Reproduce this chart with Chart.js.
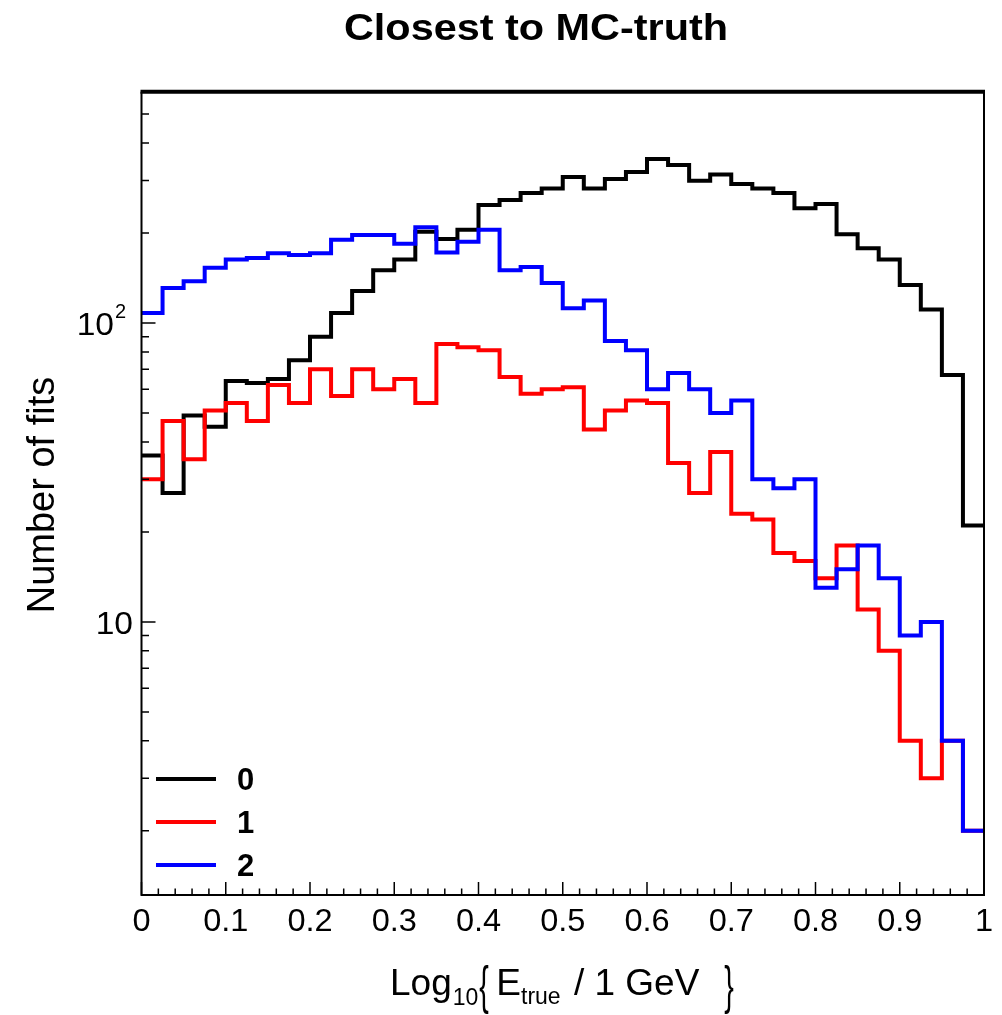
<!DOCTYPE html>
<html><head><meta charset="utf-8">
<script src="https://cdn.jsdelivr.net/npm/chart.js@4/dist/chart.umd.min.js"></script>
<style>html,body{margin:0;padding:0;background:#fff;} canvas{display:block;}</style>
</head><body>
<canvas id="c" width="1002" height="1015"></canvas>
<script>
// ---- data ----
const chartTitle = 'Closest to MC-truth';
const yAxisTitle = 'Number of fits';
const binEdges = [0,0.025,0.05,0.075,0.1,0.125,0.15,0.175,0.2,0.225,0.25,0.275,0.3,0.325,0.35,0.375,0.4,0.425,0.45,0.475,0.5,0.525,0.55,0.575,0.6,0.625,0.65,0.675,0.7,0.725,0.75,0.775,0.8,0.825,0.85,0.875,0.9,0.925,0.95,0.975,1.0];
const seriesNames = ['0', '1', '2'];
const seriesColors = ['#000000', '#ff0000', '#0000ff'];
const counts0 = [36,27,49,45,64,63,65,75,90,108,128,150,163,202,191,205,248,258,272,282,308,282,303,320,354,338,299,314,292,282,272,242,250,198,178,163,134,111,67,21];
const counts1 = [30,47,35,51,54,47,62,54,70,57,70,60,65,54,85,83,81,66,58,60,61,44,51,55,54,34,27,37,23,22,17,16,14,18,11,8,4,3,4,2];
const counts2 = [108,131,138,153,163,165,171,169,171,190,197,197,184,209,172,187,205,150,154,136,112,119,87,81,60,68,60,50,55,30,28,30,13,15,18,14,9,10,4,2];
const xMajorTicks = [0,0.1,0.2,0.3,0.4,0.5,0.6,0.7,0.8,0.9,1];
const xTickLabels = ['0','0.1','0.2','0.3','0.4','0.5','0.6','0.7','0.8','0.9','1'];
const xMinorTicks = [0.02,0.04,0.06,0.08,0.12,0.14,0.16,0.18,0.22,0.24,0.26,0.28,0.32,0.34,0.36,0.38,0.42,0.44,0.46,0.48,0.52,0.54,0.56,0.58,0.62,0.64,0.66,0.68,0.72,0.74,0.76,0.78,0.82,0.84,0.86,0.88,0.92,0.94,0.96,0.98];
const yMajorTicks = [10, 100];
const yMinorTicks = [2,3,4,5,6,7,8,9,20,30,40,50,60,70,80,90,200,300,400,500];
const yRange = [1.22, 594];
const xRange = [0, 1];

function histPoints(counts) {
  // point i sits at the left edge of bin i; the last point closes the last bin
  return binEdges.map((e, i) => ({ x: e, y: counts[Math.min(i, counts.length - 1)] }));
}

const FONT = '"Liberation Sans", Arial, Helvetica, sans-serif';
function txt(ctx, s, x, y, size, o) {
  o = o || {};
  ctx.save();
  ctx.font = (o.bold ? 'bold ' : '') + size + 'px ' + FONT;
  ctx.fillStyle = '#000';
  ctx.textAlign = o.align || 'left';
  ctx.textBaseline = o.baseline || 'alphabetic';
  ctx.translate(x, y);
  if (o.rot) ctx.rotate(o.rot);
  ctx.scale(o.sx || 1, o.sy || 1);
  ctx.fillText(s, 0, 0);
  const w = ctx.measureText(s).width * (o.sx || 1);
  ctx.restore();
  return w;
}

const rootDecor = {
  id: 'rootDecor',
  afterDraw(chart) {
    const ctx = chart.ctx;
    const a = chart.chartArea;
    const xs = chart.scales.x, ys = chart.scales.y;
    ctx.save();
    ctx.strokeStyle = '#000';
    ctx.lineCap = 'butt';
    // frame
    ctx.lineWidth = 2;
    ctx.beginPath();
    ctx.moveTo(a.left, a.top); ctx.lineTo(a.left, a.bottom); ctx.lineTo(a.right, a.bottom); ctx.lineTo(a.right, a.top);
    ctx.stroke();
    ctx.lineWidth = 4;
    ctx.beginPath(); ctx.moveTo(a.left - 1, a.top); ctx.lineTo(a.right + 1, a.top); ctx.stroke();
    // x ticks
    ctx.lineWidth = 1.5;
    ctx.beginPath();
    xMajorTicks.forEach(v => { const p = xs.getPixelForValue(v); ctx.moveTo(p, a.bottom); ctx.lineTo(p, a.bottom - 13); });
    xMinorTicks.forEach(v => { const p = xs.getPixelForValue(v); ctx.moveTo(p, a.bottom); ctx.lineTo(p, a.bottom - 6.5); });
    // y ticks
    yMajorTicks.forEach(v => { const p = ys.getPixelForValue(v); ctx.moveTo(a.left, p); ctx.lineTo(a.left + 14, p); });
    yMinorTicks.forEach(v => { const p = ys.getPixelForValue(v); ctx.moveTo(a.left, p); ctx.lineTo(a.left + 7.5, p); });
    ctx.stroke();
    ctx.restore();

    // x tick labels
    xMajorTicks.forEach((v, i) => {
      txt(ctx, xTickLabels[i], xs.getPixelForValue(v), a.bottom + 36, 31, { align: 'center', sx: 1.05 });
    });
    // y tick labels
    const p10 = ys.getPixelForValue(10);
    txt(ctx, '10', 133, p10 + 12, 32, { align: 'right', sx: 1.05 });
    const p100 = ys.getPixelForValue(100);
    txt(ctx, '10', 114, p100 + 12, 32, { align: 'right', sx: 1.05 });
    txt(ctx, '2', 115, p100 - 5, 20, { align: 'left' });

    // title
    txt(ctx, chartTitle, 536, 40, 36, { bold: true, align: 'center', sx: 1.15 });
    // y axis title
    txt(ctx, yAxisTitle, 44, 495, 38, { align: 'center', baseline: 'middle', rot: -Math.PI / 2 });
    // x axis title: Log_{10}{ E_{true} / 1 GeV }
    let x = 390; const by = 995;
    x += txt(ctx, 'Log', x, by, 37);
    x += txt(ctx, '10', x + 1, by + 10, 23) + 2;
    txt(ctx, '{', x, by + 8, 52, { sx: 0.55 }); x += 15;
    x += txt(ctx, 'E', x + 2, by, 37) + 2;
    x += txt(ctx, 'true', x, by + 9, 23);
    x += txt(ctx, ' / 1 GeV', x + 3, by, 37);
    txt(ctx, '}', x + 28, by + 8, 52, { sx: 0.55 });

    // legend
    const legY = [779, 822, 865];
    seriesNames.forEach((n, i) => {
      ctx.save();
      ctx.strokeStyle = seriesColors[i];
      ctx.lineWidth = 4;
      ctx.beginPath(); ctx.moveTo(156, legY[i]); ctx.lineTo(216, legY[i]); ctx.stroke();
      ctx.restore();
      txt(ctx, n, 237, legY[i] + 11, 31, { bold: true });
    });
  }
};

const mk = (i, counts, order) => ({
  label: seriesNames[i],
  data: histPoints(counts),
  borderColor: seriesColors[i],
  backgroundColor: seriesColors[i],
  borderWidth: 4,
  stepped: 'before',
  pointRadius: 0,
  fill: false,
  order: order,
  clip: 3
});

new Chart(document.getElementById('c'), {
  type: 'line',
  data: { datasets: [mk(0, counts0, 3), mk(1, counts1, 2), mk(2, counts2, 1)] },
  options: {
    responsive: false,
    animation: false,
    devicePixelRatio: 1,
    layout: { padding: { left: 141.5, right: 18, top: 91.7, bottom: 120 } },
    plugins: { legend: { display: false }, title: { display: false }, tooltip: { enabled: false } },
    scales: {
      x: { type: 'linear', display: false, min: xRange[0], max: xRange[1], bounds: 'data' },
      y: { type: 'logarithmic', display: false, min: yRange[0], max: yRange[1], bounds: 'data' }
    }
  },
  plugins: [rootDecor]
});
</script>
</body></html>
